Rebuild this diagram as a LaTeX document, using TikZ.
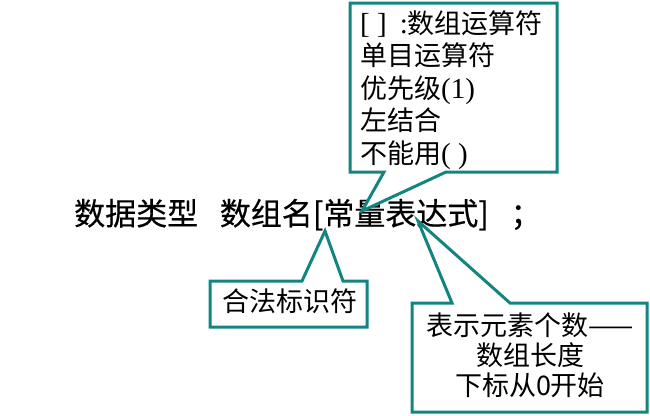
\documentclass[tikz,border=0pt]{standalone}
\usepackage{fontspec}
\setmainfont{Liberation Serif}
\newfontfamily\cjk{Noto Sans CJK SC}
\newfontfamily\cjkheavy[FakeBold=0.4]{Noto Sans CJK SC}
\newcommand{\latin}[1]{{\rmfamily\fontsize{29}{29}\selectfont #1}}
\definecolor{calloutteal}{RGB}{18,133,128}

\begin{document}
\begin{tikzpicture}[x=1pt, y=-1pt,
    callout/.style={draw=calloutteal, fill=white, line width=3pt},
    tipline/.style={inner sep=0pt, font=\cjk\fontsize{27}{27}\selectfont}]
  \useasboundingbox (0,0) rectangle (650,415);

  % Declaration
  \node[anchor=base west, inner sep=0pt, font=\cjkheavy\fontsize{31}{31}\selectfont] (decl) at (74,225)
    {数据类型\hspace{0.7em}数组名[常量表达式]\hspace{0.7em}；};

  % Callout: subscript operator
  \draw[callout] (350,3) -- (557,3) -- (557,172) -- (446,172) -- (362,211) -- (384,172) -- (350,172) -- cycle;
  \node[tipline, anchor=base west] (opname) at (360,33) {\latin{[ ]\hspace{13pt}:}数组运算符};
  \node[tipline, anchor=base west] (unary) at (360,65) {单目运算符};
  \node[tipline, anchor=base west] (prio) at (360,98) {优先级\latin{(1)}};
  \node[tipline, anchor=base west] (assoc) at (360,130) {左结合};
  \node[tipline, anchor=base west] (noparen) at (360,163) {不能用\latin{( )}};

  % Callout: array name
  \draw[callout] (210,281) -- (302,281) -- (325,231) -- (343,281) -- (367,281) -- (367,327) -- (210,327) -- cycle;
  \node[tipline, anchor=base] (ident) at (290,311) {合法标识符};

  % Callout: constant expression
  \draw[callout] (412,303) -- (452,303) -- (418,221) -- (510,303) -- (647,303) -- (647,412) -- (412,412) -- cycle;
  \node[tipline, anchor=base] (count) at (530,335) {表示元素个数——};
  \node[tipline, anchor=base] (length) at (530,365) {数组长度};
  \node[tipline, anchor=base] (zero) at (530,395) {下标从0开始};
\end{tikzpicture}
\end{document}
